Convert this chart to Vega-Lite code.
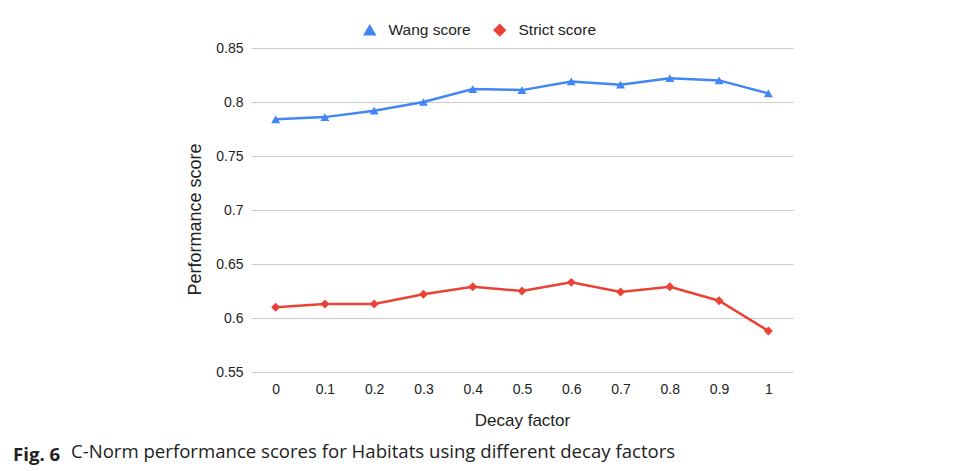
{
  "$schema": "https://vega.github.io/schema/vega-lite/v6.json",
  "autosize": {"type": "none"},
  "padding": {"left": 251, "top": 48, "right": 165, "bottom": 99},
  "width": 542,
  "height": 324,
  "background": "white",
  "config": {
    "view": {"stroke": null},
    "font": "Liberation Sans",
    "axis": {"labelFont": "Liberation Sans", "titleFont": "Liberation Sans", "labelColor": "#222", "titleColor": "#222", "titleFontWeight": "normal"}
  },
  "title": {
    "text": "Fig. 6",
    "subtitle": "\u200b\u00a0\u00a0\u00a0\u00a0\u00a0\u00a0\u00a0\u00a0\u00a0\u00a0\u00a0\u00a0C-Norm performance scores for Habitats using different decay factors",
    "orient": "bottom",
    "anchor": "start",
    "frame": "group",
    "dx": -238,
    "offset": 18,
    "font": "Open Sans",
    "fontSize": 18.6,
    "fontWeight": "bold",
    "color": "#222",
    "subtitleFont": "Open Sans",
    "subtitleFontSize": 18.6,
    "subtitleFontWeight": "normal",
    "subtitleColor": "#222",
    "subtitlePadding": -21.5
  },
  "data": {
    "values": [
      {"decay": "0", "series": "Wang score", "score": 0.784},
      {"decay": "0.1", "series": "Wang score", "score": 0.786},
      {"decay": "0.2", "series": "Wang score", "score": 0.792},
      {"decay": "0.3", "series": "Wang score", "score": 0.800},
      {"decay": "0.4", "series": "Wang score", "score": 0.812},
      {"decay": "0.5", "series": "Wang score", "score": 0.811},
      {"decay": "0.6", "series": "Wang score", "score": 0.819},
      {"decay": "0.7", "series": "Wang score", "score": 0.816},
      {"decay": "0.8", "series": "Wang score", "score": 0.822},
      {"decay": "0.9", "series": "Wang score", "score": 0.820},
      {"decay": "1", "series": "Wang score", "score": 0.808},
      {"decay": "0", "series": "Strict score", "score": 0.610},
      {"decay": "0.1", "series": "Strict score", "score": 0.613},
      {"decay": "0.2", "series": "Strict score", "score": 0.613},
      {"decay": "0.3", "series": "Strict score", "score": 0.622},
      {"decay": "0.4", "series": "Strict score", "score": 0.629},
      {"decay": "0.5", "series": "Strict score", "score": 0.625},
      {"decay": "0.6", "series": "Strict score", "score": 0.633},
      {"decay": "0.7", "series": "Strict score", "score": 0.624},
      {"decay": "0.8", "series": "Strict score", "score": 0.629},
      {"decay": "0.9", "series": "Strict score", "score": 0.616},
      {"decay": "1", "series": "Strict score", "score": 0.588}
    ]
  },
  "encoding": {
    "x": {
      "field": "decay", "type": "ordinal", "sort": null,
      "scale": {"type": "point", "padding": 0.5},
      "axis": {"title": "Decay factor", "labelAngle": 0, "domain": false, "ticks": false, "grid": false, "labelFontSize": 14, "labelPadding": 10, "titleFontSize": 17, "titlePadding": 16}
    },
    "y": {
      "field": "score", "type": "quantitative",
      "scale": {"domain": [0.55, 0.85], "nice": false, "zero": false},
      "axis": {"title": "Performance score", "values": [0.55, 0.6, 0.65, 0.7, 0.75, 0.8, 0.85], "format": ".2~f", "domain": false, "ticks": false, "grid": true, "gridColor": "#cccccc", "gridWidth": 1, "labelFontSize": 14, "labelPadding": 8, "titleFontSize": 18, "titlePadding": 11, "titleY": 171}
    },
    "color": {
      "field": "series", "type": "nominal",
      "scale": {"domain": ["Wang score", "Strict score"], "range": ["#4285f4", "#ea4335"]},
      "legend": {"title": null, "orient": "none", "legendX": 111, "legendY": -26, "direction": "horizontal", "labelFontSize": 15.5, "labelFont": "Liberation Sans", "labelColor": "#222", "symbolSize": 120, "columnPadding": 20, "labelOffset": 11}
    },
    "shape": {
      "field": "series", "type": "nominal",
      "scale": {"domain": ["Wang score", "Strict score"], "range": ["triangle-up", "diamond"]},
      "legend": null
    }
  },
  "layer": [
    {"mark": {"type": "line", "strokeWidth": 2.5}},
    {"mark": {"type": "point", "filled": true, "opacity": 1, "size": 80}}
  ]
}
